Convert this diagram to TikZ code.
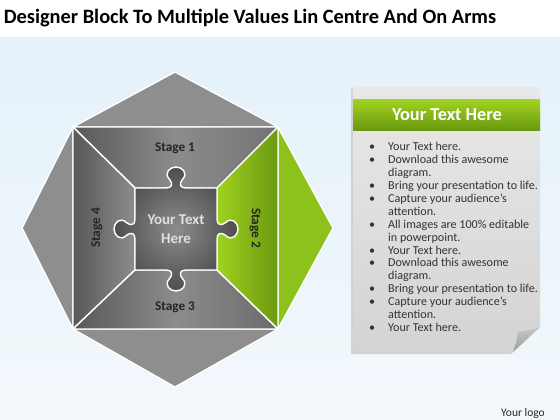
\documentclass[tikz,border=0pt]{standalone}
\usepackage{fontspec}
\setmainfont{Carlito}
\usepackage{tikz}
\usetikzlibrary{positioning,calc,shadings}
\definecolor{leafgreen}{RGB}{141,194,28}
\definecolor{leaflight}{RGB}{160,210,32}
\definecolor{leafdark}{RGB}{106,152,16}
\definecolor{slate}{RGB}{142,142,142}
\definecolor{slatedark}{RGB}{88,88,88}
\definecolor{slatemid}{RGB}{140,140,140}
\definecolor{skyfade}{RGB}{228,241,249}
\definecolor{skyend}{RGB}{243,248,252}

% one jigsaw knob, drawn along +x and bulging upwards
\newcommand{\knob}{-- (-10,0) .. controls (-4,0) and (-3,-4) .. (-6,-8) .. controls (-13,-15) and (-6,-21) .. (0,-21) .. controls (6,-21) and (13,-15) .. (6,-8) .. controls (3,-4) and (4,0) .. (10,0)}
\newcommand{\bul}{\makebox[19pt][l]{\textbullet}}
\newcommand{\ind}{\hspace*{19pt}}

\begin{document}
\begin{tikzpicture}[x=1pt, y=-1pt,
  piece/.style={draw=white, line width=1.4pt, line join=round},
  stagelabel/.style={font=\fontsize{13.3}{15}\selectfont\bfseries, text=black!85},
]
\useasboundingbox (0,0) rectangle (560,420);

% Background
\fill[white] (0,0) rectangle (560,420);
\shade[top color=skyfade, bottom color=skyend] (0,38) rectangle (560,420);

% Title
\node[font=\fontsize{20.4}{22}\selectfont\bfseries] (title) at (250,18) {Designer Block To Multiple Values Lin Centre And On Arms};

% Corners of the block
\coordinate (A) at (73,127);  \coordinate (B) at (278,127);
\coordinate (C) at (278,329); \coordinate (D) at (73,329);
\coordinate (T) at (175,72);  \coordinate (R) at (333,228);
\coordinate (S) at (175,387); \coordinate (L) at (22,228);
\coordinate (a) at (135,188); \coordinate (b) at (217,188);
\coordinate (c) at (217,270); \coordinate (d) at (135,270);

% Outer arms
\fill[slate, piece] (A) -- (T) -- (B) -- cycle;
\fill[slate, piece] (D) -- (L) -- (A) -- cycle;
\fill[slate, piece] (C) -- (S) -- (D) -- cycle;
\fill[leafgreen, piece] (B) -- (R) -- (C) -- cycle;

% Stages
\shade[piece, left color=slatedark, right color=black!55, middle color=slatemid] (A) -- (B) -- (b) -- (a) -- cycle;
\shade[piece, left color=slatedark, right color=slatemid] (D) -- (A) -- (a) -- (d) -- cycle;
\shade[piece, left color=slatedark, right color=black!58, middle color=slatemid] (C) -- (D) -- (d) -- (c) -- cycle;
\shade[piece, left color=leaflight, right color=leafdark] (B) -- (C) -- (c) -- (b) -- cycle;

% Centre piece
\shade[piece, inner color=black!45, outer color=black!70]
  (a) {[shift={(176,188)}] \knob} -- (b)
  {[shift={(217,229)}, rotate=-90] \knob} -- (c)
  {[shift={(176,270)}, rotate=180] \knob} -- (d)
  {[shift={(135,229)}, rotate=90] \knob} -- cycle;

\node[stagelabel] (stage1) at (175,148) {Stage 1};
\node[stagelabel, rotate=-90] (stage2) at (255,228) {Stage 2};
\node[stagelabel] (stage3) at (175,307) {Stage 3};
\node[stagelabel, rotate=90] (stage4) at (97,228) {Stage 4};
\node[font=\fontsize{15}{19}\selectfont\bfseries, text=black!12, align=center] (hub) at (176,229) {Your Text\\Here};

% Note paper
\fill[black!18] (351,89) -- (538,89) -- (538,329) -- (511,354) -- (351,354) -- cycle;
\shade[top color=black!9, bottom color=black!17] (353,87) -- (540,87) -- (540,327) -- (513,352) -- (353,352) -- cycle;
\shade[top color=black!22, bottom color=black!38] (540,327) .. controls (530,330) .. (518,332) .. controls (517,340) .. (513,352) -- cycle;
\shade[top color=leaflight, bottom color=leafdark] (353,100) rectangle (540,130);
\node[font=\fontsize{18.3}{20}\selectfont\bfseries, text=white] (head) at (447,115) {Your Text Here};
\node[font=\fontsize{12.1}{12.93}\selectfont, text=black!80, align=left, anchor=north west, inner sep=0pt] (list) at (369,142) {%
\bul Your Text here.\\
\bul Download this awesome\\
\ind diagram.\\
\bul Bring your presentation to life.\\
\bul Capture your audience’s\\
\ind attention.\\
\bul All images are 100\% editable\\
\ind in powerpoint.\\
\bul Your Text here.\\
\bul Download this awesome\\
\ind diagram.\\
\bul Bring your presentation to life.\\
\bul Capture your audience’s\\
\ind attention.\\
\bul Your Text here.};

% Logo
\node[font=\fontsize{11.5}{13}\selectfont, text=black!85] (logo) at (523,413) {Your logo};

\end{tikzpicture}
\end{document}
